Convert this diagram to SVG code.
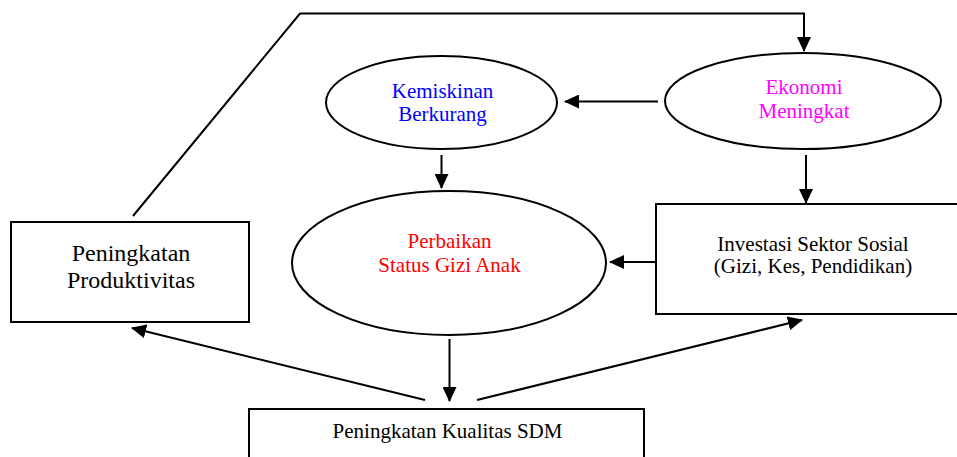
<svg xmlns="http://www.w3.org/2000/svg" width="957" height="457" viewBox="0 0 957 457">
<style>
.shape{fill:#fff;stroke:#000;stroke-width:2}
.conn{fill:none;stroke:#000;stroke-width:2}
text{font-family:"Liberation Serif","Times New Roman",serif;font-size:21px;text-anchor:middle;fill:#000}
.blue{fill:#0000ff}.mag{fill:#ff00ff}.red{fill:#ff0000}
</style>
<defs>
<marker id="ah" viewBox="0 0 15 14" refX="14" refY="7" markerWidth="15" markerHeight="14" markerUnits="userSpaceOnUse" orient="auto">
<path d="M0,0 L15,7 L0,14 Z" fill="#000"/>
</marker>
</defs>
<rect width="957" height="457" fill="#fff"/>
<g id="connectors">
<polyline class="conn" points="133,216 300,13.5 804,13.5 804,51" marker-end="url(#ah)"/>
<line class="conn" x1="658" y1="101.5" x2="565" y2="101.5" marker-end="url(#ah)"/>
<line class="conn" x1="441.5" y1="155" x2="441.5" y2="188" marker-end="url(#ah)"/>
<line class="conn" x1="806" y1="155" x2="806" y2="203" marker-end="url(#ah)"/>
<line class="conn" x1="656" y1="262" x2="610" y2="262" marker-end="url(#ah)"/>
<line class="conn" x1="449.5" y1="339" x2="449.5" y2="401" marker-end="url(#ah)"/>
<line class="conn" x1="425" y1="400" x2="132" y2="328" marker-end="url(#ah)"/>
<line class="conn" x1="477" y1="400" x2="802" y2="320" marker-end="url(#ah)"/>
</g>
<g id="kemiskinan">
<ellipse class="shape" cx="441.5" cy="102.5" rx="115.5" ry="46.5"/>
<text class="blue" x="442.5" y="97.5">Kemiskinan</text>
<text class="blue" x="442.5" y="120.5">Berkurang</text>
</g>
<g id="ekonomi">
<ellipse class="shape" cx="803" cy="101" rx="138" ry="48"/>
<text class="mag" x="804" y="94">Ekonomi</text>
<text class="mag" x="804" y="118">Meningkat</text>
</g>
<g id="perbaikan">
<ellipse class="shape" cx="449" cy="263" rx="157" ry="72"/>
<text class="red" x="449.5" y="248">Perbaikan</text>
<text class="red" x="449.5" y="272">Status Gizi Anak</text>
</g>
<g id="investasi">
<rect class="shape" x="656" y="204" width="310" height="110"/>
<text x="813" y="251">Investasi Sektor Sosial</text>
<text x="813" y="273">(Gizi, Kes, Pendidikan)</text>
</g>
<g id="produktivitas">
<rect class="shape" x="11" y="222" width="238" height="100"/>
<text x="131" y="261" style="font-size:24px">Peningkatan</text>
<text x="131" y="288" style="font-size:24px">Produktivitas</text>
</g>
<g id="sdm">
<rect class="shape" x="249" y="409" width="395" height="60"/>
<text x="447.5" y="438">Peningkatan Kualitas SDM</text>
</g>
</svg>
